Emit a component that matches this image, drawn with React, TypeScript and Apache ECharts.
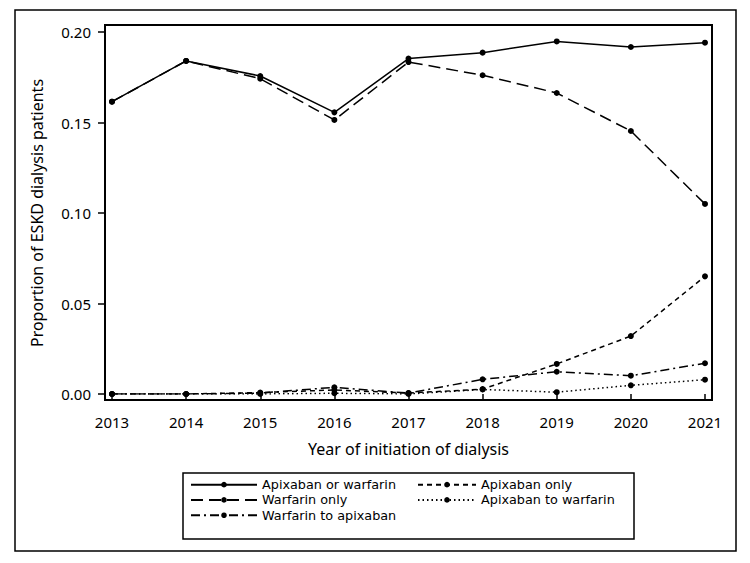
import React, { useEffect, useRef } from "react";
import * as echarts from "echarts";

const years = [2013, 2014, 2015, 2016, 2017, 2018, 2019, 2020, 2021];
const apixabanOrWarfarin = [0.1615, 0.184, 0.1757, 0.1556, 0.1853, 0.1886, 0.1948, 0.1917, 0.1941];
const warfarinOnly = [0.1615, 0.184, 0.1742, 0.1514, 0.1834, 0.1761, 0.1663, 0.1453, 0.105];
const apixabanOnly = [0.0, 0.0, 0.0008, 0.0022, 0.0005, 0.0027, 0.0166, 0.032, 0.065];
const apixabanToWarfarin = [0.0, 0.0, 0.0, 0.0004, 0.0, 0.0025, 0.001, 0.0048, 0.0079];
const warfarinToApixaban = [0.0, 0.0, 0.0005, 0.0037, 0.0005, 0.0081, 0.0123, 0.0101, 0.017];
const yTicks = [0, 0.05, 0.1, 0.15, 0.2];

const FONT = "Noto Sans";
const LEGEND_FONT = "DejaVu Sans";

export default function App() {
  const ref = useRef<HTMLDivElement>(null);
  useEffect(() => {
    if (!ref.current) return;
    const chart = echarts.init(ref.current, undefined, { renderer: "svg" });
    const mk = (name: string, data: number[], type: any) => ({
      name,
      type: "line",
      data: years.map((y, i) => [y, data[i]]),
      symbol: "circle",
      symbolSize: 6,
      itemStyle: { color: "#000" },
      lineStyle: { color: "#000", width: 1.5, type },
      emphasis: { disabled: true },
    });
    const leg = (name: string, left: number, top: number, itemWidth: number) => ({
      data: [name],
      orient: "vertical",
      left,
      top,
      padding: 0,
      itemWidth,
      itemHeight: 7,
      itemGap: 0,
      textStyle: { fontSize: 12.8, lineHeight: 15.3, color: "#000", fontFamily: LEGEND_FONT },
    });
    chart.setOption({
      animation: false,
      backgroundColor: "#fff",
      textStyle: { fontFamily: FONT },
      grid: { left: 112, right: 45, top: 32, bottom: 169, containLabel: false },
      xAxis: {
        type: "value",
        min: 2013,
        max: 2021,
        interval: 1,
        offset: 6,
        name: "Year of initiation of dialysis",
        nameLocation: "middle",
        nameGap: 41,
        nameTextStyle: { fontSize: 16, color: "#000", fontFamily: FONT },
        axisLine: { show: false },
        axisTick: { show: true, length: 7, lineStyle: { color: "#000", width: 1.5 } },
        axisLabel: { fontSize: 15, color: "#000", margin: 14, fontFamily: FONT, formatter: (v: number) => String(v) },
        splitLine: { show: false },
      },
      yAxis: {
        type: "value",
        min: yTicks[0],
        max: yTicks[yTicks.length - 1],
        interval: 0.05,
        offset: 7,
        name: "Proportion of ESKD dialysis patients",
        nameLocation: "middle",
        nameGap: 60,
        nameTextStyle: { fontSize: 16, color: "#000", fontFamily: FONT },
        axisLine: { show: false },
        axisTick: { show: true, length: 7, lineStyle: { color: "#000", width: 1.5 } },
        axisLabel: { fontSize: 15, color: "#000", margin: 14, fontFamily: FONT, formatter: (v: number) => v.toFixed(2) },
        splitLine: { show: false },
      },
      legend: [
        leg("Apixaban or warfarin", 190, 477, 66),
        leg("Warfarin only", 190, 492.3, 66),
        leg("Warfarin to apixaban", 190, 507.6, 66),
        leg("Apixaban only", 417, 477, 58),
        leg("Apixaban to warfarin", 417, 492.3, 58),
      ],
      graphic: [
        { type: "rect", shape: { x: 15, y: 10, width: 721, height: 541 }, style: { fill: "none", stroke: "#000", lineWidth: 1.5 }, silent: true },
        { type: "rect", shape: { x: 105, y: 25, width: 607, height: 375 }, style: { fill: "none", stroke: "#000", lineWidth: 2 }, silent: true },
        { type: "rect", shape: { x: 183, y: 473, width: 451, height: 66 }, style: { fill: "none", stroke: "#000", lineWidth: 1.5 }, silent: true },
      ],
      series: [
        mk("Apixaban or warfarin", apixabanOrWarfarin, "solid"),
        mk("Warfarin only", warfarinOnly, [12, 6]),
        mk("Apixaban only", apixabanOnly, [5, 4]),
        mk("Apixaban to warfarin", apixabanToWarfarin, [1.5, 3]),
        mk("Warfarin to apixaban", warfarinToApixaban, [9, 4, 2, 4]),
      ],
    });
    return () => chart.dispose();
  }, []);
  return <div ref={ref} style={{ position: "fixed", left: 0, top: 0, width: 750, height: 563 }} />;
}
